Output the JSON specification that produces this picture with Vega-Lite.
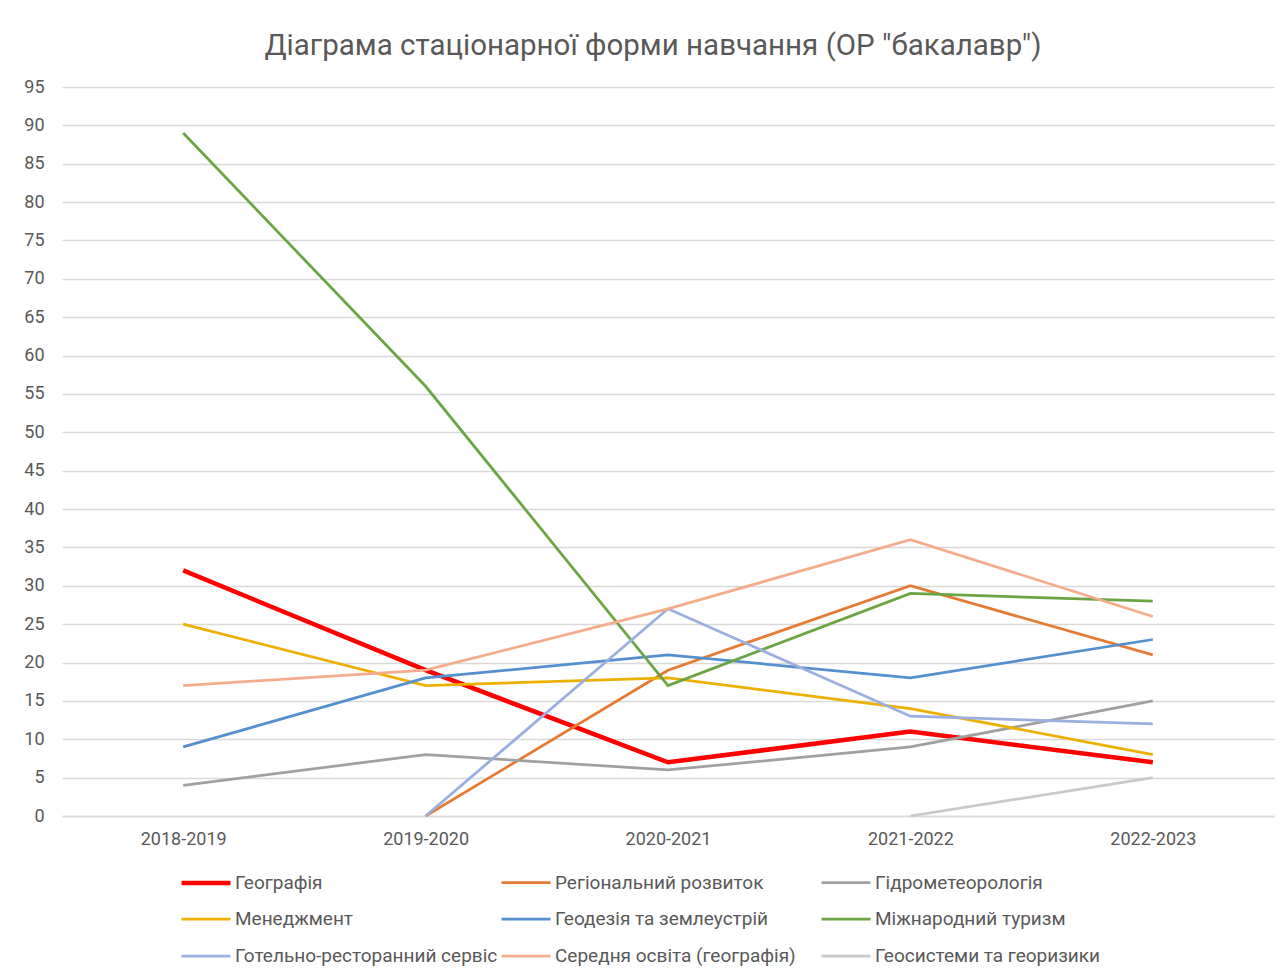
{
  "$schema": "https://vega.github.io/schema/vega-lite/v6.json",
  "autosize": "none",
  "width": 1212,
  "height": 729,
  "padding": {"left": 62, "top": 87, "right": 13, "bottom": 161},
  "background": "#FFFFFF",
  "title": {
    "text": "Діаграма стаціонарної форми навчання (ОР \"бакалавр\")",
    "anchor": "middle",
    "dx": -15,
    "offset": 17,
    "fontSize": 29.5,
    "font": "Roboto",
    "fontWeight": "normal",
    "color": "#595959"
  },
  "config": {
    "view": {"stroke": null},
    "font": "Roboto"
  },
  "data": {
    "values": [
      {"year": "2018-2019", "series": "Географія", "value": 32},
      {"year": "2019-2020", "series": "Географія", "value": 19},
      {"year": "2020-2021", "series": "Географія", "value": 7},
      {"year": "2021-2022", "series": "Географія", "value": 11},
      {"year": "2022-2023", "series": "Географія", "value": 7},
      {"year": "2019-2020", "series": "Регіональний розвиток", "value": 0},
      {"year": "2020-2021", "series": "Регіональний розвиток", "value": 19},
      {"year": "2021-2022", "series": "Регіональний розвиток", "value": 30},
      {"year": "2022-2023", "series": "Регіональний розвиток", "value": 21},
      {"year": "2018-2019", "series": "Гідрометеорологія", "value": 4},
      {"year": "2019-2020", "series": "Гідрометеорологія", "value": 8},
      {"year": "2020-2021", "series": "Гідрометеорологія", "value": 6},
      {"year": "2021-2022", "series": "Гідрометеорологія", "value": 9},
      {"year": "2022-2023", "series": "Гідрометеорологія", "value": 15},
      {"year": "2018-2019", "series": "Менеджмент", "value": 25},
      {"year": "2019-2020", "series": "Менеджмент", "value": 17},
      {"year": "2020-2021", "series": "Менеджмент", "value": 18},
      {"year": "2021-2022", "series": "Менеджмент", "value": 14},
      {"year": "2022-2023", "series": "Менеджмент", "value": 8},
      {"year": "2018-2019", "series": "Геодезія та землеустрій", "value": 9},
      {"year": "2019-2020", "series": "Геодезія та землеустрій", "value": 18},
      {"year": "2020-2021", "series": "Геодезія та землеустрій", "value": 21},
      {"year": "2021-2022", "series": "Геодезія та землеустрій", "value": 18},
      {"year": "2022-2023", "series": "Геодезія та землеустрій", "value": 23},
      {"year": "2018-2019", "series": "Міжнародний туризм", "value": 89},
      {"year": "2019-2020", "series": "Міжнародний туризм", "value": 56},
      {"year": "2020-2021", "series": "Міжнародний туризм", "value": 17},
      {"year": "2021-2022", "series": "Міжнародний туризм", "value": 29},
      {"year": "2022-2023", "series": "Міжнародний туризм", "value": 28},
      {"year": "2019-2020", "series": "Готельно-ресторанний сервіс", "value": 0},
      {"year": "2020-2021", "series": "Готельно-ресторанний сервіс", "value": 27},
      {"year": "2021-2022", "series": "Готельно-ресторанний сервіс", "value": 13},
      {"year": "2022-2023", "series": "Готельно-ресторанний сервіс", "value": 12},
      {"year": "2018-2019", "series": "Середня освіта (географія)", "value": 17},
      {"year": "2019-2020", "series": "Середня освіта (географія)", "value": 19},
      {"year": "2020-2021", "series": "Середня освіта (географія)", "value": 27},
      {"year": "2021-2022", "series": "Середня освіта (географія)", "value": 36},
      {"year": "2022-2023", "series": "Середня освіта (географія)", "value": 26},
      {"year": "2021-2022", "series": "Геосистеми та георизики", "value": 0},
      {"year": "2022-2023", "series": "Геосистеми та георизики", "value": 5}
    ]
  },
  "mark": {"type": "line", "strokeCap": "butt", "strokeJoin": "miter"},
  "encoding": {
    "x": {
      "field": "year",
      "type": "ordinal",
      "scale": {"type": "point", "padding": 0.5},
      "axis": {
        "title": null,
        "labelAngle": 0,
        "labelFontSize": 18,
        "labelColor": "#595959",
        "labelPadding": 14,
        "ticks": false,
        "domainColor": "#D9D9D9",
        "domainWidth": 1.5,
        "grid": false
      }
    },
    "y": {
      "field": "value",
      "type": "quantitative",
      "scale": {"domain": [0, 95], "nice": false},
      "axis": {
        "title": null,
        "values": [0, 5, 10, 15, 20, 25, 30, 35, 40, 45, 50, 55, 60, 65, 70, 75, 80, 85, 90, 95],
        "labelFontSize": 18,
        "labelColor": "#595959",
        "labelPadding": 18,
        "ticks": false,
        "domain": false,
        "gridColor": "#D9D9D9",
        "gridWidth": 1.5
      }
    },
    "color": {
      "field": "series",
      "type": "nominal",
      "scale": {
        "domain": ["Географія", "Регіональний розвиток", "Гідрометеорологія", "Менеджмент", "Геодезія та землеустрій", "Міжнародний туризм", "Готельно-ресторанний сервіс", "Середня освіта (географія)", "Геосистеми та георизики"],
        "range": ["#FF0000", "#E57A35", "#A0A0A0", "#EDB000", "#5590CE", "#6BA444", "#9BAEE0", "#F4AC8C", "#C9C9C9"]
      },
      "legend": {
        "title": null,
        "orient": "none",
        "legendX": 117,
        "legendY": 769,
        "direction": "horizontal",
        "columns": 3,
        "gridAlign": "all",
        "columnPadding": -2,
        "rowPadding": -1,
        "symbolType": "stroke",
        "symbolSize": 2400,
        "labelFontSize": 19,
        "labelColor": "#595959",
        "labelOffset": 2,
        "labelLimit": 300
      }
    },
    "strokeWidth": {
      "field": "series",
      "type": "nominal",
      "scale": {
        "type": "ordinal",
        "domain": ["Географія", "Регіональний розвиток", "Гідрометеорологія", "Менеджмент", "Геодезія та землеустрій", "Міжнародний туризм", "Готельно-ресторанний сервіс", "Середня освіта (географія)", "Геосистеми та георизики"],
        "range": [4.5, 2.75, 2.75, 2.75, 2.75, 2.75, 2.75, 2.75, 2.75]
      },
      "legend": {
        "title": null,
        "orient": "none",
        "legendX": 117,
        "legendY": 769,
        "direction": "horizontal",
        "columns": 3,
        "gridAlign": "all",
        "columnPadding": -2,
        "rowPadding": -1,
        "symbolType": "stroke",
        "symbolSize": 2400,
        "labelFontSize": 19,
        "labelColor": "#595959",
        "labelOffset": 2,
        "labelLimit": 300
      }
    }
  }
}
